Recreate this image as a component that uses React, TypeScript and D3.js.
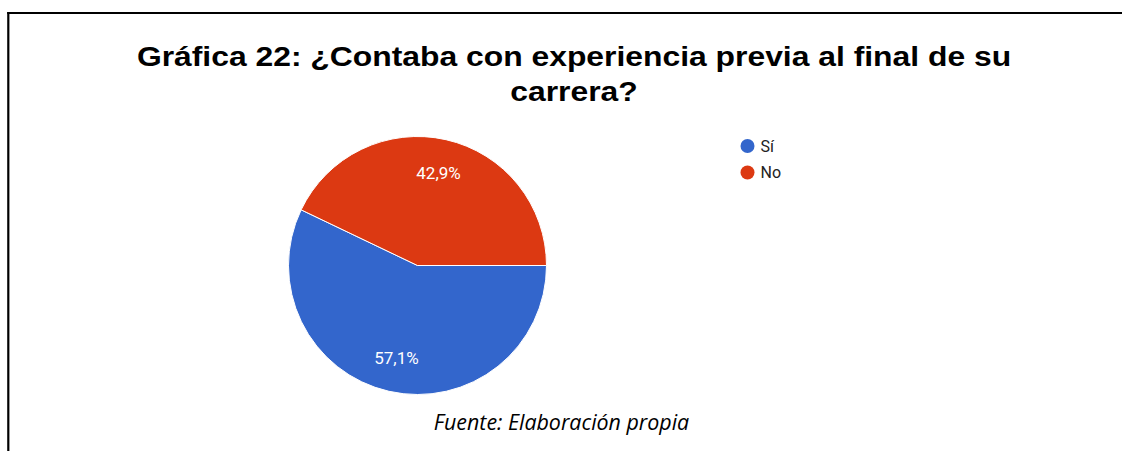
import { useEffect, useMemo } from "react";
import { arc, pie, PieArcDatum } from "d3";

const TITLE_LINES = ["Gráfica 22: ¿Contaba con experiencia previa al final de su", "carrera?"];
const CATEGORIES = ["Sí", "No"];
const VALUES = [57.1, 42.9];
const COLORS = ["#3366cc", "#dc3912"];
const SOURCE_NOTE = "Fuente: Elaboración propia";

type Slice = { label: string; value: number; color: string };

export default function App() {
  const width = 1122;
  const height = 451;
  const cx = 417.5;
  const cy = 265.5;
  const radius = 129;

  useEffect(() => {
    document.documentElement.style.overflow = "hidden";
    document.body.style.margin = "0";
    document.body.style.overflow = "hidden";
  }, []);

  const slices: Slice[] = CATEGORIES.map((label, i) => ({ label, value: VALUES[i], color: COLORS[i] }));

  const arcs = useMemo(
    () =>
      pie<Slice>()
        .sort(null)
        .value((d) => d.value)
        .startAngle(Math.PI / 2)
        .endAngle(Math.PI / 2 + Math.PI * 2)(slices),
    []
  );

  const arcPath = arc<PieArcDatum<Slice>>().innerRadius(0).outerRadius(radius);
  const labelArc = arc<PieArcDatum<Slice>>().innerRadius(95).outerRadius(95);

  return (
    <svg
      width={width}
      height={height}
      viewBox={`0 0 ${width} ${height}`}
      style={{ display: "block", background: "#ffffff" }}
    >
      {/* frame: only top and left edges are visible */}
      <line x1={8.3} y1={12} x2={8.3} y2={height + 5} stroke="#000" strokeWidth={2.2} />
      <line x1={7.2} y1={13} x2={width + 10} y2={13} stroke="#000" strokeWidth={2.2} />

      {/* the title in the source is a little stretched sideways */}
      <g transform="translate(574,0) scale(1.18,1)">
        {TITLE_LINES.map((line, i) => (
          <text
            key={line}
            x={0}
            y={66 + i * 35}
            textAnchor="middle"
            fontFamily="'Liberation Sans', Arial, sans-serif"
            fontWeight="bold"
            fontSize={27}
            fill="#000"
          >
            {line}
          </text>
        ))}
      </g>

      <g transform={`translate(${cx},${cy})`}>
        {arcs.map((d) => (
          <path key={d.data.label} d={arcPath(d) || ""} fill={d.data.color} stroke="#ffffff" strokeWidth={1} />
        ))}
        {arcs.map((d) => {
          const [lx, ly] = labelArc.centroid(d);
          return (
            <text
              key={`${d.data.label}-label`}
              x={lx}
              y={ly + 6}
              textAnchor="middle"
              fontFamily="Roboto, Arial, sans-serif"
              fontSize={17}
              fill="#ffffff"
            >
              {d.data.value.toFixed(1).replace(".", ",")}%
            </text>
          );
        })}
      </g>

      {slices.map((s, i) => (
        <g key={s.label} transform={`translate(747.5,${146 + i * 26.5})`}>
          <circle r={7} fill={s.color} />
          <text x={13} y={5.5} fontFamily="Roboto, Arial, sans-serif" fontSize={16} fill="#222222">
            {s.label}
          </text>
        </g>
      ))}

      <text
        x={561.5}
        y={430}
        textAnchor="middle"
        fontFamily="'Open Sans', sans-serif"
        fontStyle="italic"
        fontSize={21.4}
        fill="#000"
      >
        {SOURCE_NOTE}
      </text>
    </svg>
  );
}
